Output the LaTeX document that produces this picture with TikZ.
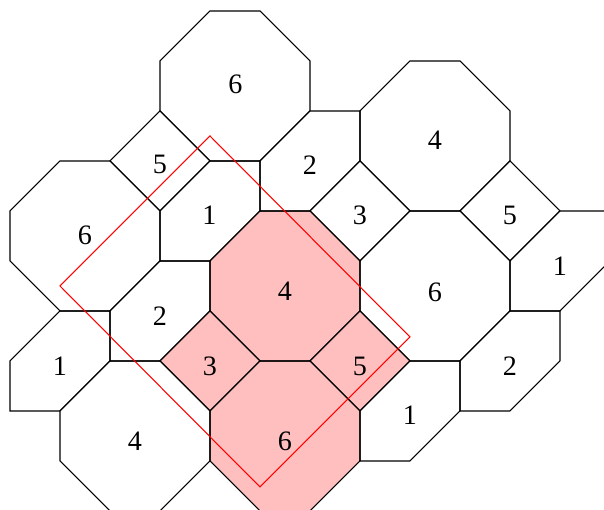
\documentclass[tikz,border=0pt]{standalone}
\usepackage{fontspec}
\setmainfont{Liberation Serif}
\begin{document}
\begin{tikzpicture}[x=1cm,y=-1cm,
  tile/.style={draw=black,line width=0.6pt,line join=miter},
  hl/.style={fill=red!25},
  frame/.style={draw=red,line width=0.6pt},
  lbl/.style={font=\fontsize{16}{19}\selectfont,inner sep=0pt,anchor=center}]
\useasboundingbox (-0.2,-0.22) rectangle (11.88,9.98);
\clip (-0.2,-0.22) rectangle (11.88,9.98);
% highlighted tiles
\fill[hl] (5,4) -- (6,4) -- (7,5) -- (7,6) -- (6,7) -- (5,7) -- (4,6) -- (4,5) -- cycle;
\fill[hl] (4,6) -- (5,7) -- (4,8) -- (3,7) -- cycle;
\fill[hl] (7,6) -- (8,7) -- (7,8) -- (6,7) -- cycle;
\fill[hl] (5,7) -- (6,7) -- (7,8) -- (7,9) -- (6,10) -- (5,10) -- (4,9) -- (4,8) -- cycle;
% outlines
\draw[tile] (4,0) -- (5,0) -- (6,1) -- (6,2) -- (5,3) -- (4,3) -- (3,2) -- (3,1) -- cycle;
\draw[tile] (3,2) -- (4,3) -- (3,4) -- (2,3) -- cycle;
\draw[tile] (1,3) -- (2,3) -- (3,4) -- (3,5) -- (2,6) -- (1,6) -- (0,5) -- (0,4) -- cycle;
\draw[tile] (4,3) -- (5,3) -- (5,4) -- (4,5) -- (3,5) -- (3,4) -- cycle;
\draw[tile] (6,2) -- (7,2) -- (7,3) -- (6,4) -- (5,4) -- (5,3) -- cycle;
\draw[tile] (7,3) -- (8,4) -- (7,5) -- (6,4) -- cycle;
\draw[tile] (8,1) -- (9,1) -- (10,2) -- (10,3) -- (9,4) -- (8,4) -- (7,3) -- (7,2) -- cycle;
\draw[tile] (10,3) -- (11,4) -- (10,5) -- (9,4) -- cycle;
\draw[tile] (10,5) -- (11,4) -- (12,4) -- (12,5) -- (11,6) -- (10,6) -- cycle;
\draw[tile] (5,4) -- (6,4) -- (7,5) -- (7,6) -- (6,7) -- (5,7) -- (4,6) -- (4,5) -- cycle;
\draw[tile] (8,4) -- (9,4) -- (10,5) -- (10,6) -- (9,7) -- (8,7) -- (7,6) -- (7,5) -- cycle;
\draw[tile] (2,6) -- (3,5) -- (4,5) -- (4,6) -- (3,7) -- (2,7) -- cycle;
\draw[tile] (1,6) -- (2,6) -- (2,7) -- (1,8) -- (0,8) -- (0,7) -- cycle;
\draw[tile] (4,6) -- (5,7) -- (4,8) -- (3,7) -- cycle;
\draw[tile] (7,6) -- (8,7) -- (7,8) -- (6,7) -- cycle;
\draw[tile] (10,6) -- (11,6) -- (11,7) -- (10,8) -- (9,8) -- (9,7) -- cycle;
\draw[tile] (8,7) -- (9,7) -- (9,8) -- (8,9) -- (7,9) -- (7,8) -- cycle;
\draw[tile] (5,7) -- (6,7) -- (7,8) -- (7,9) -- (6,10) -- (5,10) -- (4,9) -- (4,8) -- cycle;
\draw[tile] (2,7) -- (3,7) -- (4,8) -- (4,9) -- (3,10) -- (2,10) -- (1,9) -- (1,8) -- cycle;
% red frame
\draw[frame] (4,2.5) -- (8,6.52) -- (5,9.52) -- (1,5.5) -- cycle;
% labels
\node[lbl] (t6a) at (4.51,1.47) {6};
\node[lbl] (t5a) at (3,3.07) {5};
\node[lbl] (t6b) at (1.5,4.48) {6};
\node[lbl] (t1a) at (3.99,4.08) {1};
\node[lbl] (t2a) at (6,3.08) {2};
\node[lbl] (t3a) at (7,4.08) {3};
\node[lbl] (t4a) at (8.5,2.59) {4};
\node[lbl] (t5b) at (10,4.08) {5};
\node[lbl] (t1b) at (11,5.1) {1};
\node[lbl] (t4b) at (5.5,5.6) {4};
\node[lbl] (t6c) at (8.5,5.62) {6};
\node[lbl] (t2b) at (3,6.1) {2};
\node[lbl] (t1c) at (1,7.1) {1};
\node[lbl] (t3b) at (4,7.1) {3};
\node[lbl] (t5c) at (7,7.1) {5};
\node[lbl] (t2c) at (10,7.1) {2};
\node[lbl] (t1d) at (8,8.08) {1};
\node[lbl] (t6d) at (5.5,8.6) {6};
\node[lbl] (t4c) at (2.5,8.6) {4};
\end{tikzpicture}
\end{document}
